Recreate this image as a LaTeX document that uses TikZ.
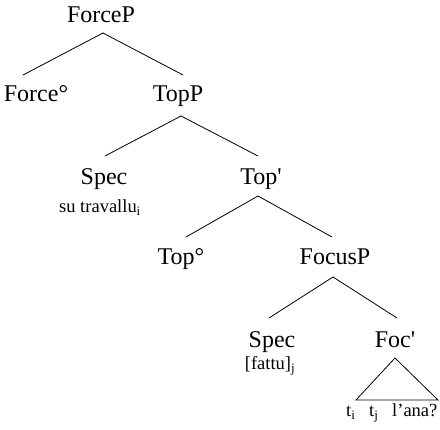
\documentclass[tikz,border=0pt]{standalone}
\usepackage{fontspec}
\setmainfont{Liberation Serif}
\newfontfamily\treefont{Liberation Serif}
\begin{document}
\begin{tikzpicture}[x=1pt,y=-1pt,
  cat/.style={anchor=base,inner sep=0pt,font=\treefont\fontsize{24}{28}\selectfont},
  word/.style={anchor=base,inner sep=0pt,font=\treefont\fontsize{18.5}{21}\selectfont},
  branch/.style={line width=0.8pt,line cap=round}]
\useasboundingbox (0,0) rectangle (440,430);
% nodes
\node[cat] (ForceP) at (101,23) {ForceP};
\node[cat] (Force) at (36,102) {Force°};
\node[cat] (TopP) at (178,102) {TopP};
\node[cat] (Spec1) at (104,185) {Spec};
\node[word] (w1) at (100,213) {su travallu\textsubscript{i}};
\node[cat] (Topbar) at (261,185) {Top\textquotesingle};
\node[cat] (Top) at (181,265) {Top°};
\node[cat] (FocusP) at (335,265) {FocusP};
\node[cat] (Spec2) at (272,348) {Spec};
\node[word] (w2) at (270,370) {[fattu]\textsubscript{j}};
\node[cat] (Focbar) at (395,348) {Foc\textquotesingle};
\node[word,anchor=base west] (ti) at (346,417) {t\textsubscript{i}};
\node[word,anchor=base west] (tj) at (369,417) {t\textsubscript{j}};
\node[word,anchor=base west] (lana) at (392,417) {l’ana?};
% branches
\draw[branch] ([xshift=2pt,yshift=-10pt]ForceP.base) -- ([xshift=-13pt,yshift=27pt]Force.base);
\draw[branch] ([xshift=2pt,yshift=-10pt]ForceP.base) -- ([xshift=5pt,yshift=27pt]TopP.base);
\draw[branch] ([xshift=3pt,yshift=-14pt]TopP.base) -- ([xshift=1pt,yshift=29pt]Spec1.base);
\draw[branch] ([xshift=3pt,yshift=-14pt]TopP.base) -- ([xshift=-3pt,yshift=29pt]Topbar.base);
\draw[branch] ([xshift=-3pt,yshift=-11pt]Topbar.base) -- ([xshift=5pt,yshift=28pt]Top.base);
\draw[branch] ([xshift=-3pt,yshift=-11pt]Topbar.base) -- ([xshift=-3pt,yshift=28pt]FocusP.base);
\draw[branch] ([xshift=-2pt,yshift=-12pt]FocusP.base) -- ([xshift=-3pt,yshift=30pt]Spec2.base);
\draw[branch] ([xshift=-2pt,yshift=-12pt]FocusP.base) -- ([xshift=2pt,yshift=30pt]Focbar.base);
\draw[branch,line join=miter] ([yshift=-10pt]Focbar.base) -- ([xshift=-39pt,yshift=-52pt]Focbar.base) -- ([xshift=43pt,yshift=-52pt]Focbar.base) -- cycle;
\end{tikzpicture}
\end{document}
